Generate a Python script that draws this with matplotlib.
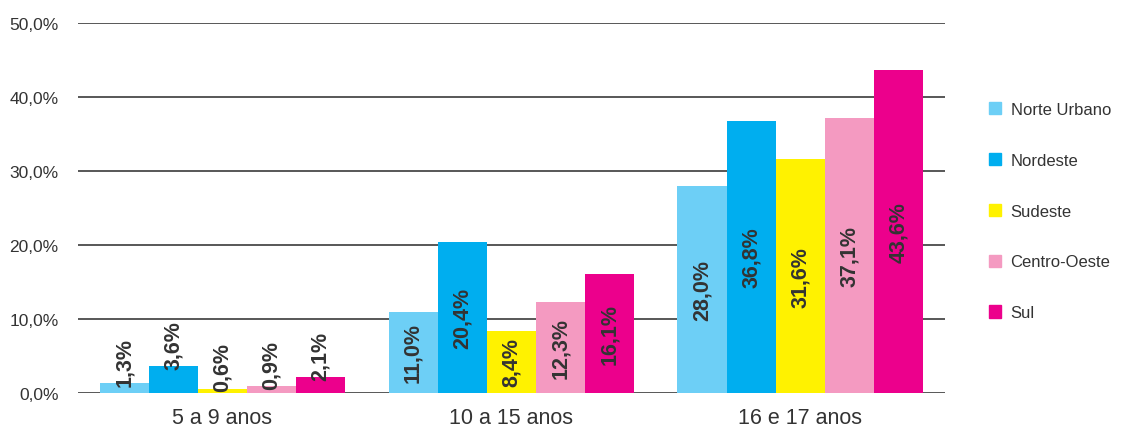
import matplotlib

matplotlib.use("Agg")
import matplotlib.patches as mpatches
import matplotlib.pyplot as plt
import numpy as np

groups = ["5 a 9 anos", "10 a 15 anos", "16 e 17 anos"]
regions = ["Norte Urbano", "Nordeste", "Sudeste", "Centro-Oeste", "Sul"]
norte_urbano = [1.3, 11.0, 28.0]
nordeste = [3.6, 20.4, 36.8]
sudeste = [0.6, 8.4, 31.6]
centro_oeste = [0.9, 12.3, 37.1]
sul = [2.1, 16.1, 43.6]
yticks = [0, 10, 20, 30, 40, 50]

colors = ["#6DCFF6", "#00AEEF", "#FFF200", "#F49AC1", "#EC008C"]
TXT = "#333333"
GRID = "#4a4a4a"

plt.rcParams["font.family"] = ["Liberation Sans", "DejaVu Sans"]

series = [norte_urbano, nordeste, sudeste, centro_oeste, sul]

fig = plt.figure(figsize=(11.22, 4.27), dpi=100)
ax = fig.add_axes([0.0695, 0.0773, 0.7725, 0.8665])

x = np.arange(len(groups))
w = 0.17
for i, (vals, col) in enumerate(zip(series, colors)):
    xs = x + (i - 2) * w
    ax.bar(xs, vals, width=w, color=col, zorder=3, linewidth=0)
    for xv, v in zip(xs, vals):
        lab = f"{v:.1f}%".replace(".", ",")
        if v < 6:
            ax.text(xv, v - 0.3, lab, rotation=90, ha="center", va="bottom",
                    fontsize=15.5, fontweight="bold", color=TXT, zorder=4)
        else:
            ax.text(xv, v / 2, lab, rotation=90, ha="center", va="center",
                    fontsize=15.5, fontweight="bold", color=TXT, zorder=4)

ax.set_xlim(-0.5, 2.5)
ax.set_ylim(0, 50)
ax.set_yticks(yticks)
ax.set_yticklabels([f"{t:.1f}%".replace(".", ",") for t in yticks], fontsize=12.5, color=TXT)
ax.set_xticks(x)
ax.set_xticklabels(groups, fontsize=15.5, color=TXT)
ax.tick_params(axis="both", length=0)
ax.tick_params(axis="y", pad=14)
ax.tick_params(axis="x", pad=10)
for t in yticks:
    ax.axhline(t, color=GRID, lw=1.3, zorder=1)
for sp in ax.spines.values():
    sp.set_visible(False)

handles = [mpatches.Patch(color=c, label=r) for c, r in zip(colors, regions)]
fig.legend(handles=handles, loc="upper left", bbox_to_anchor=(0.868, 0.794),
           frameon=False, fontsize=12, labelcolor=TXT, handlelength=0.75,
           handleheight=0.75, handletextpad=0.55, labelspacing=2.15)

fig.savefig("out.png", dpi=100, facecolor="white")
plt.close(fig)
